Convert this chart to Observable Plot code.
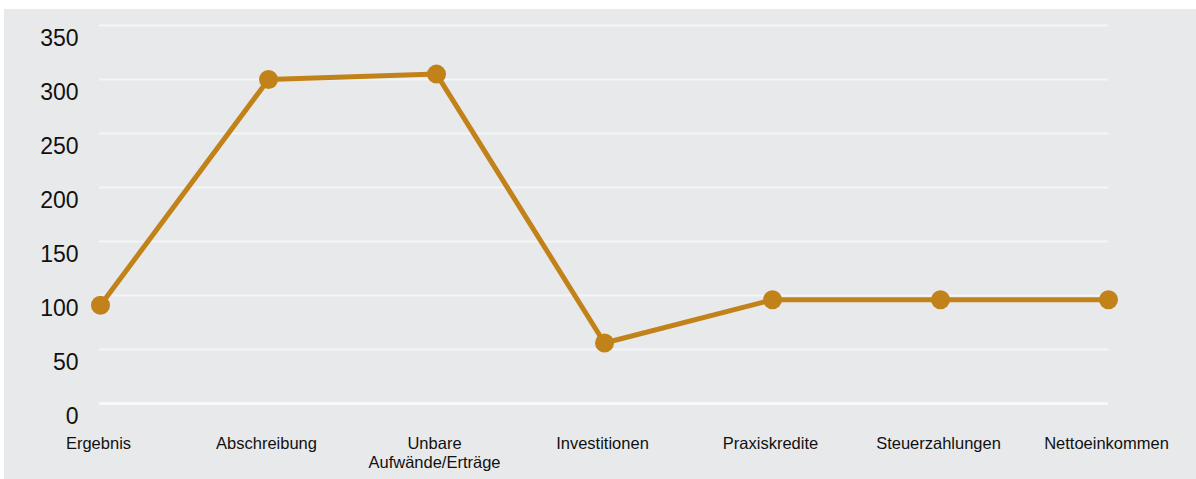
<!DOCTYPE html>
<html>
<head>
<meta charset="utf-8">
<script src="https://cdn.jsdelivr.net/npm/d3@7"></script>
<script src="https://cdn.jsdelivr.net/npm/@observablehq/plot@0.6"></script>
<style>
  html, body { margin: 0; padding: 0; background: #ffffff; }
  #panel { position: absolute; left: 4px; top: 9px; width: 1192px; height: 470px; background: #e8e9eb; }
  #panel svg { display: block; }
</style>
</head>
<body>
<div id="panel"></div>
<script>
const categories = ["Ergebnis", "Abschreibung", "Unbare Aufwände/Erträge", "Investitionen", "Praxiskredite", "Steuerzahlungen", "Nettoeinkommen"];
const tickLabels = ["Ergebnis", "Abschreibung", "Unbare\nAufwände/Erträge", "Investitionen", "Praxiskredite", "Steuerzahlungen", "Nettoeinkommen"];
const values = [91, 300, 305, 56, 96, 96, 96];
const yTicks = [0, 50, 100, 150, 200, 250, 300, 350];

const data = categories.map((c, i) => ({category: c, value: values[i]}));
const labelOf = new Map(categories.map((c, i) => [c, tickLabels[i]]));
const color = "#c1821a";

const chart = Plot.plot({
  width: 1192,
  height: 470,
  marginLeft: 95,
  marginRight: 88,
  marginTop: 16,
  marginBottom: 76,
  style: {fontFamily: "'Liberation Sans', Arial, sans-serif", background: "transparent", color: "#111"},
  x: {type: "point", domain: categories, padding: 0},
  y: {domain: [0, 350]},
  marks: [
    Plot.ruleY(yTicks.filter(d => d > 0), {stroke: "#f4f5f6", strokeWidth: 2}),
    Plot.ruleY([0], {stroke: "#f8f8f9", strokeWidth: 3}),
    Plot.axisY({ticks: yTicks, tickSize: 0, tickPadding: 21, fontSize: 23, dy: 13, label: null, textAnchor: "end"}),
    Plot.axisX({tickSize: 0, tickPadding: 31, fontSize: 16.5, lineHeight: 1.2, lineAnchor: "top", dx: -2, tickFormat: d => labelOf.get(d), label: null}),
    Plot.line(data, {x: "category", y: "value", stroke: color, strokeWidth: 5}),
    Plot.dot(data, {x: "category", y: "value", r: 9.5, fill: color, stroke: "none"})
  ]
});
document.getElementById("panel").appendChild(chart);
</script>
</body>
</html>
